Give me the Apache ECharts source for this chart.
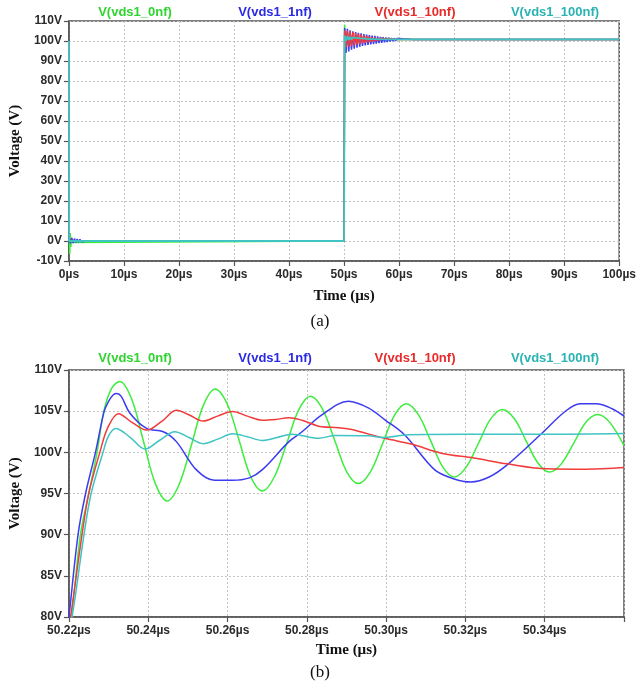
<!DOCTYPE html>
<html>
<head>
<meta charset="utf-8">
<script src="https://cdn.jsdelivr.net/npm/echarts@6/dist/echarts.min.js"></script>
<style>
  html, body { margin: 0; padding: 0; background: #ffffff; }
  #chart { width: 639px; height: 689px; }
</style>
</head>
<body>
<div id="chart"></div>
<script>
// Drain-source voltage of MOSFET 1 for four snubber capacitances.
const seriesNames = ['V(vds1_0nf)', 'V(vds1_1nf)', 'V(vds1_10nf)', 'V(vds1_100nf)'];

// (a) overview, 0–100 µs: [time µs, volts] before the turn-off edge
const overviewHead0nf = [[0, 100], [0.05, 5.5], [0.15, -6.5], [0.25, 4], [0.35, -3], [0.5, 1.5], [0.7, -0.8], [1, 0], [50, 0]];
const overviewHead1nf = [[0, 100], [0.05, 2], [0.25, -1.2], [0.5, 1.5], [0.75, -1], [1, 1.2], [1.25, -0.8], [1.5, 1], [1.75, -0.6], [2, 0.8], [2.25, -0.4], [2.5, 0.6], [2.75, -0.2], [3, 0.4], [3.5, 0], [50, 0]];
const overviewHead10nf = [[0, 100], [0.05, 0.5], [0.3, -0.5], [0.6, 0.3], [1, 0], [50, 0]];
const overviewHead100nf = [[0, 100], [0.05, 0], [50, 0]];

// ringing extremes after the edge, one every ringStep µs starting at ringStart
const ringStart = 50.1;
const ringStep = 0.25;
const ring0nf = [108.2, 94.5, 104.5, 97.5, 103.3, 98.5, 102.7, 99.1, 102.3, 99.5, 102.0, 99.8, 101.8, 100.0, 101.6, 100.2, 101.45, 100.35, 101.3, 100.5, 101.2, 100.6, 101.1, 100.7];
const ring1nf = [106.5, 94.0, 106.1, 94.8, 105.3, 95.6, 104.9, 96.2, 104.5, 96.7, 104.1, 97.1, 103.8, 97.5, 103.5, 97.8, 103.2, 98.0, 102.9, 98.3, 102.7, 98.5, 102.5, 98.7, 102.3, 98.9, 102.1, 99.1, 101.9, 99.3, 101.8, 99.5, 101.7, 99.7, 101.5, 99.9, 101.4, 100.1, 101.3, 100.3, 101.2, 100.4, 101.1, 100.5, 101.0, 100.6, 100.95, 100.7];
const ring10nf = [105.3, 96.8, 105.1, 97.1, 104.8, 97.4, 104.4, 97.8, 104.0, 98.2, 103.6, 98.5, 103.2, 98.8, 102.8, 99.1, 102.5, 99.4, 102.2, 99.6, 101.9, 99.8, 101.7, 100.0, 101.5, 100.2, 101.35, 100.35, 101.2, 100.5, 101.1, 100.6, 101.0, 100.7, 100.95, 100.75];
const ring100nf = [102.8, 100.2, 102.3, 100.5, 102.0, 100.7, 101.8, 100.8, 101.6, 100.9, 101.45, 100.95, 101.3, 100.95, 101.2, 100.9, 101.1, 100.85, 101.0, 100.8, 100.95, 100.8, 100.9, 100.8, 100.9, 100.8, 100.85, 100.8];

// settled level after the ringing
const overviewTail0nf = [[56.5, 100.8], [100, 100.8]];
const overviewTail1nf = [[62.5, 100.8], [100, 100.8]];
const overviewTail10nf = [[59.5, 100.8], [100, 100.8]];
const overviewTail100nf = [[57.5, 100.8], [100, 100.8]];

// (b) detail of the turn-off edge, 50.22–50.36 µs: [time µs, volts]
const detail0nf = [
  [50.2195, 78], [50.2206, 80], [50.2229, 90], [50.2250, 95], [50.2271, 100], [50.2288, 105], [50.2308, 107.8],
  [50.2328, 108.6], [50.2358, 106.5], [50.2388, 101.35], [50.2418, 96.2], [50.2448, 94.1], [50.2478, 96.1],
  [50.2509, 100.9], [50.2539, 105.7], [50.2569, 107.7], [50.2599, 105.9], [50.2629, 101.5], [50.2658, 97.1],
  [50.2688, 95.3], [50.2718, 97.0], [50.2749, 101.05], [50.2779, 105.1], [50.2809, 106.8], [50.2839, 105.3],
  [50.2870, 101.5], [50.2900, 97.7], [50.2930, 96.2], [50.2960, 97.6], [50.2991, 101.05], [50.3021, 104.5],
  [50.3051, 105.9], [50.3081, 104.6], [50.3112, 101.45], [50.3142, 98.3], [50.3172, 97.0], [50.3202, 98.2],
  [50.3233, 101.1], [50.3263, 104.0], [50.3293, 105.2], [50.3323, 104.1], [50.3353, 101.4], [50.3383, 98.7],
  [50.3412, 97.6], [50.3442, 98.6], [50.3473, 101.1], [50.3503, 103.6], [50.3533, 104.6], [50.3563, 103.7],
  [50.3600, 100.8]
];
const detail1nf = [
  [50.2195, 78.2], [50.2200, 80], [50.2223, 90], [50.2242, 95], [50.2267, 100], [50.2289, 105], [50.2300, 106.2],
  [50.2312, 107.0], [50.2321, 107.15], [50.2332, 106.8], [50.2354, 104.75], [50.2396, 102.9], [50.2438, 102.5],
  [50.2471, 101.3], [50.2521, 97.9], [50.2567, 96.6], [50.2612, 96.6], [50.2655, 96.9], [50.2688, 97.9],
  [50.2755, 101.3], [50.2788, 102.5], [50.2838, 104.55], [50.2905, 106.2], [50.2955, 105.4], [50.2997, 103.95],
  [50.3047, 102.1], [50.3122, 97.9], [50.3170, 96.8], [50.3214, 96.4], [50.3260, 97.0], [50.3306, 98.5],
  [50.3397, 102.5], [50.3450, 104.9], [50.3489, 105.9], [50.3530, 105.9], [50.3570, 105.3], [50.3600, 104.4]
];
const detail10nf = [
  [50.2195, 78], [50.2204, 80], [50.2233, 90], [50.2250, 95], [50.2278, 100], [50.2298, 103], [50.2325, 104.7],
  [50.2360, 103.6], [50.2396, 102.7], [50.2435, 103.8], [50.2471, 105.1], [50.2505, 104.5], [50.2538, 103.8],
  [50.2575, 104.4], [50.2613, 104.95], [50.2650, 104.4], [50.2688, 103.9], [50.2722, 104.0], [50.2755, 104.2],
  [50.2788, 103.9], [50.2838, 103.1], [50.2880, 103.0], [50.2910, 102.8], [50.2997, 101.7], [50.3064, 101.0],
  [50.3139, 99.9], [50.3222, 99.3], [50.3306, 98.6], [50.3406, 98.0], [50.3506, 97.95], [50.3600, 98.15]
];
const detail100nf = [
  [50.2195, 77.5], [50.2208, 80], [50.2238, 90], [50.2256, 95], [50.2286, 100], [50.2300, 102], [50.2318, 102.9],
  [50.2355, 101.8], [50.2392, 100.4], [50.2430, 101.5], [50.2467, 102.5], [50.2503, 101.8], [50.2538, 101.05],
  [50.2575, 101.6], [50.2613, 102.25], [50.2650, 101.9], [50.2688, 101.45], [50.2725, 101.8], [50.2763, 102.2],
  [50.2830, 101.7], [50.2872, 102.05], [50.2955, 102.0], [50.2997, 101.8], [50.3055, 102.15], [50.3200, 102.2],
  [50.3400, 102.2], [50.3600, 102.3]
];

const lineColors = ['#3ded3d', '#3b3bf2', '#f23b3b', '#3fc3c3'];
const labelColors = ['#2fd42f', '#2a2ae6', '#e82a2a', '#2ab3b3'];

function withRing(head, ring, tail) {
  return head.concat(ring.map((v, i) => [ringStart + i * ringStep, v]), tail);
}
const overview = [
  withRing(overviewHead0nf, ring0nf, overviewTail0nf),
  withRing(overviewHead1nf, ring1nf, overviewTail1nf),
  withRing(overviewHead10nf, ring10nf, overviewTail10nf),
  withRing(overviewHead100nf, ring100nf, overviewTail100nf)
];
const detail = [detail0nf, detail1nf, detail10nf, detail100nf];

const axisColor = '#555555';
const tickFont = { fontFamily: 'Liberation Sans', fontWeight: 'bold', fontSize: 12, color: '#2a2a2a' };
const nameFont = { fontFamily: 'Liberation Serif', fontWeight: 'bold', fontSize: 15, color: '#111111' };
const gridLine = { show: true, lineStyle: { color: '#c4c4c4', type: [2, 2], width: 1 } };

function xAxis(gridIndex, min, max, interval, fmt, nameGap) {
  return {
    gridIndex, type: 'value', min, max, interval,
    name: 'Time (µs)', nameLocation: 'middle', nameGap, nameTextStyle: nameFont,
    axisLine: { show: true, onZero: false, lineStyle: { color: axisColor, width: 1.5 } },
    axisTick: { show: true, length: 5, lineStyle: { color: axisColor, width: 1.2 } },
    axisLabel: Object.assign({ margin: 8, formatter: fmt }, tickFont),
    splitLine: gridLine
  };
}
function yAxis(gridIndex, min, max, interval) {
  return {
    gridIndex, type: 'value', min, max, interval,
    name: 'Voltage (V)', nameLocation: 'middle', nameGap: 44, nameTextStyle: nameFont,
    axisLine: { show: true, onZero: false, lineStyle: { color: axisColor, width: 1.5 } },
    axisTick: { show: true, length: 5, lineStyle: { color: axisColor, width: 1.2 } },
    axisLabel: Object.assign({ margin: 7, formatter: '{value}V' }, tickFont),
    splitLine: gridLine
  };
}

const series = [];
overview.forEach((data, i) => series.push({
  name: seriesNames[i], type: 'line', xAxisIndex: 0, yAxisIndex: 0, data,
  showSymbol: false, animation: false,
  lineStyle: { color: lineColors[i], width: i === 3 ? 1.8 : 1.5 },
  itemStyle: { color: lineColors[i] }
}));
detail.forEach((data, i) => series.push({
  name: seriesNames[i], type: 'line', xAxisIndex: 1, yAxisIndex: 1, data,
  smooth: 0.35, showSymbol: false, animation: false,
  lineStyle: { color: lineColors[i], width: 1.5 },
  itemStyle: { color: lineColors[i] }
}));

// trace names above each plot, coloured like their traces
const legendX = [135, 275, 415, 555];
const graphic = [];
[12, 358].forEach(y => seriesNames.forEach((name, i) => graphic.push({
  type: 'text', x: legendX[i], y,
  style: { text: name, fill: labelColors[i], font: 'bold 13px "Liberation Sans"', textAlign: 'center', textVerticalAlign: 'middle' }
})));
[['(a)', 322], ['(b)', 673]].forEach(([t, y]) => graphic.push({
  type: 'text', x: 320, y,
  style: { text: t, fill: '#111111', font: '17px "Liberation Serif"', textAlign: 'center', textVerticalAlign: 'middle' }
}));

const chart = echarts.init(document.getElementById('chart'), null, { renderer: 'canvas' });
chart.setOption({
  animation: false,
  backgroundColor: '#ffffff',
  grid: [
    { left: 65, top: 21, width: 557, height: 240, show: true, borderColor: axisColor, borderWidth: 1.5 },
    { left: 65, top: 370, width: 559, height: 247, show: true, borderColor: axisColor, borderWidth: 1.5 }
  ],
  xAxis: [
    xAxis(0, 0, 100, 10, v => v + 'µs', 28),
    xAxis(1, 50.22, 50.36, 0.02, v => (Math.abs(v - 50.36) < 1e-6 ? '' : v.toFixed(2) + 'µs'), 26)
  ],
  yAxis: [
    yAxis(0, -10, 110, 10),
    yAxis(1, 80, 110, 5)
  ],
  graphic,
  series
});
</script>
</body>
</html>
